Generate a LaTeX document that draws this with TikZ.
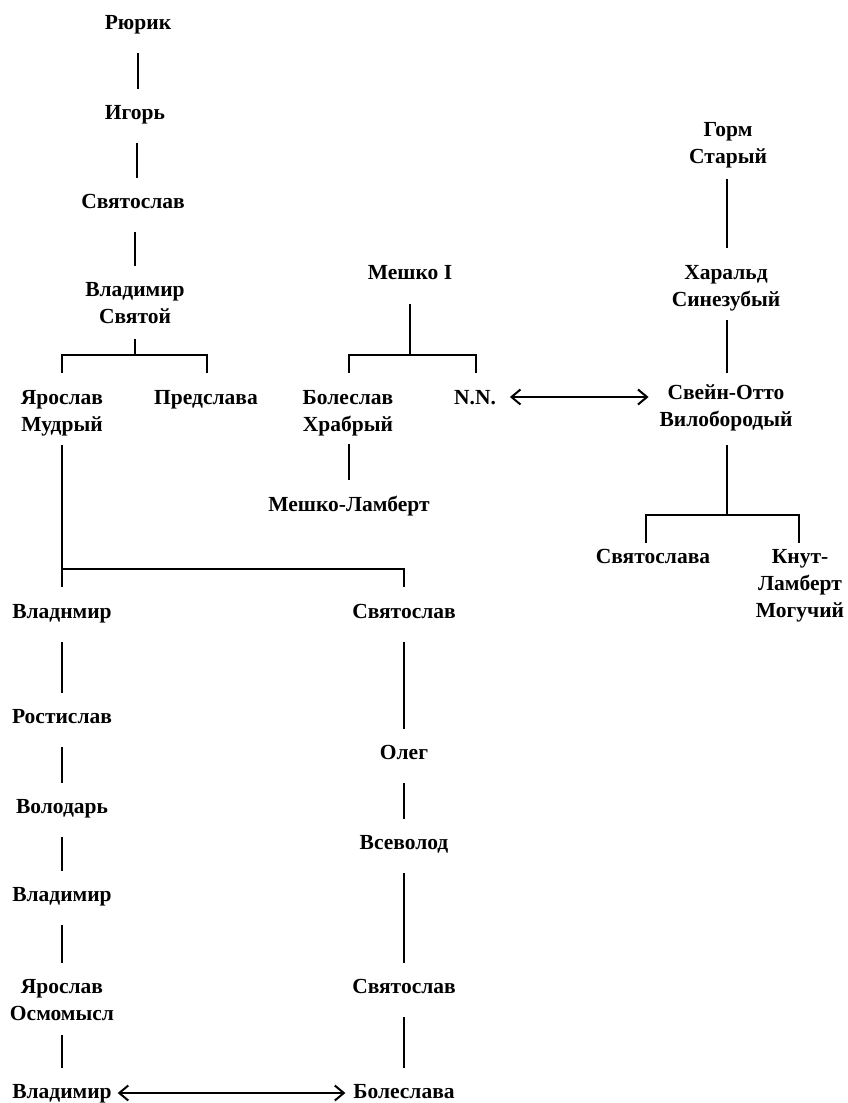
\documentclass[tikz,border=0pt]{standalone}
\usepackage{fontspec}
\setmainfont{Liberation Serif}
\usetikzlibrary{arrows.meta}
\newcommand\stt{\vrule width 0pt height 15pt depth 5pt}
\begin{document}
\begin{tikzpicture}[x=1pt,y=-1pt,
  line width=2pt,
  person/.style={anchor=north, inner sep=0pt, align=center,
    font=\fontsize{21.5}{27}\selectfont\bfseries},
  link/.style={shorten <=18pt, shorten >=14pt},
  mlink/.style={shorten <=9pt, shorten >=14pt},
  marry/.style={{Straight Barb[length=9pt,width=15pt]}-{Straight Barb[length=9pt,width=15pt]}}]
\useasboundingbox (0,0) rectangle (848,1103);

% Rurikids
\node[person] (rurik) at (138,13) {\stt Рюрик};
\node[person] (igor) at (135,103) {\stt Игорь};
\node[person] (svyat1) at (133,192) {\stt Святослав};
\node[person] (vlad1) at (135,280) {\stt Владимир\\\stt Святой};
\node[person] (yarm) at (62,388) {\stt Ярослав\\\stt Мудрый};
\node[person] (predsl) at (206,388) {\stt Предслава};

% Piasts
\node[person] (mieszko) at (410,263) {\stt Мешко I};
\node[person] (boleslav) at (348,388) {\stt Болеслав\\\stt Храбрый};
\node[person] (nn) at (475,388) {\stt N.N.};
\node[person] (mlambert) at (349,495) {\stt Мешко-Ламберт};

% Danes
\node[person] (gorm) at (728,120) {\stt Горм\\\stt Старый};
\node[person] (harald) at (726,263) {\stt Харальд\\\stt Синезубый};
\node[person] (svein) at (726,383) {\stt Свейн-Отто\\\stt Вилобородый};
\node[person] (svyatoslava) at (653,547) {\stt Святослава};
\node[person] (knut) at (800,547) {\stt Кнут-\\\stt Ламберт\\\stt Могучий};

% Left line
\node[person] (vladn) at (62,602) {\stt Владнмир};
\node[person] (rostislav) at (62,707) {\stt Ростислав};
\node[person] (volodar) at (62,797) {\stt Володарь};
\node[person] (vlad3) at (62,885) {\stt Владимир};
\node[person] (yaro) at (62,977) {\stt Ярослав\\\stt Осмомысл};
\node[person] (vlad4) at (62,1082) {\stt Владимир};

% Right line
\node[person] (svyat2) at (404,602) {\stt Святослав};
\node[person] (oleg) at (404,743) {\stt Олег};
\node[person] (vsevolod) at (404,833) {\stt Всеволод};
\node[person] (svyat3) at (404,977) {\stt Святослав};
\node[person] (boleslava) at (404,1082) {\stt Болеслава};

% junction coordinates
\coordinate (j1) at (135,355);
\coordinate (j2) at (410,355);
\coordinate (j3) at (727,515);
\coordinate (j4) at (62,569);

% vertical links
\draw[link] (rurik.south) -- (rurik.south |- igor.north);
\draw[link] ([xshift=2pt]igor.south) -- ([xshift=2pt]igor.south |- svyat1.north);
\draw[link] ([xshift=2pt]svyat1.south) -- ([xshift=2pt]svyat1.south |- vlad1.north);
\draw[shorten <=10pt] (vlad1.south) -- (j1);
\draw ([yshift=15pt]yarm.north) |- (j1) -| ([yshift=15pt,xshift=1pt]predsl.north);

\draw[shorten <=19pt] (mieszko.south) -- (j2);
\draw ([yshift=15pt,xshift=1pt]boleslav.north) |- (j2) -| ([yshift=15pt,xshift=1pt]nn.north);
\draw[shorten <=7pt, shorten >=15pt] ([xshift=1pt]boleslav.south) -- ([xshift=1pt]boleslav.south |- mlambert.north);

\draw[shorten <=10pt, shorten >=15pt] ([xshift=-1pt]gorm.south) -- ([xshift=-1pt]gorm.south |- harald.north);
\draw[shorten <=8pt, shorten >=10pt] ([xshift=1pt]harald.south) -- ([xshift=1pt]harald.south |- svein.north);
\draw[shorten <=13pt] (j3 |- svein.south) -- (j3);
\draw ([yshift=4pt,xshift=-7pt]svyatoslava.north) |- (j3) -| ([yshift=4pt,xshift=-1pt]knut.north);

\draw[shorten <=8pt] (yarm.south) -- ([yshift=15pt]vladn.north);
\draw (j4) -| ([yshift=15pt]svyat2.north);

\draw[link] (vladn.south) -- (vladn.south |- rostislav.north);
\draw[link] (rostislav.south) -- (rostislav.south |- volodar.north);
\draw[link] (volodar.south) -- (volodar.south |- vlad3.north);
\draw[link] (vlad3.south) -- (vlad3.south |- yaro.north);
\draw[mlink] (yaro.south) -- (yaro.south |- vlad4.north);

\draw[link] (svyat2.south) -- (svyat2.south |- oleg.north);
\draw[link] (oleg.south) -- (oleg.south |- vsevolod.north);
\draw[link] (vsevolod.south) -- (vsevolod.south |- svyat3.north);
\draw[link] (svyat3.south) -- (svyat3.south |- boleslava.north);

% marriages
\draw[marry] ([xshift=13pt,yshift=2pt]nn.east) -- ([xshift=-10pt,yshift=2pt]nn.east -| svein.west);
\draw[marry] ([xshift=5pt]vlad4.east) -- ([xshift=-7pt]vlad4.east -| boleslava.west);
\end{tikzpicture}
\end{document}
